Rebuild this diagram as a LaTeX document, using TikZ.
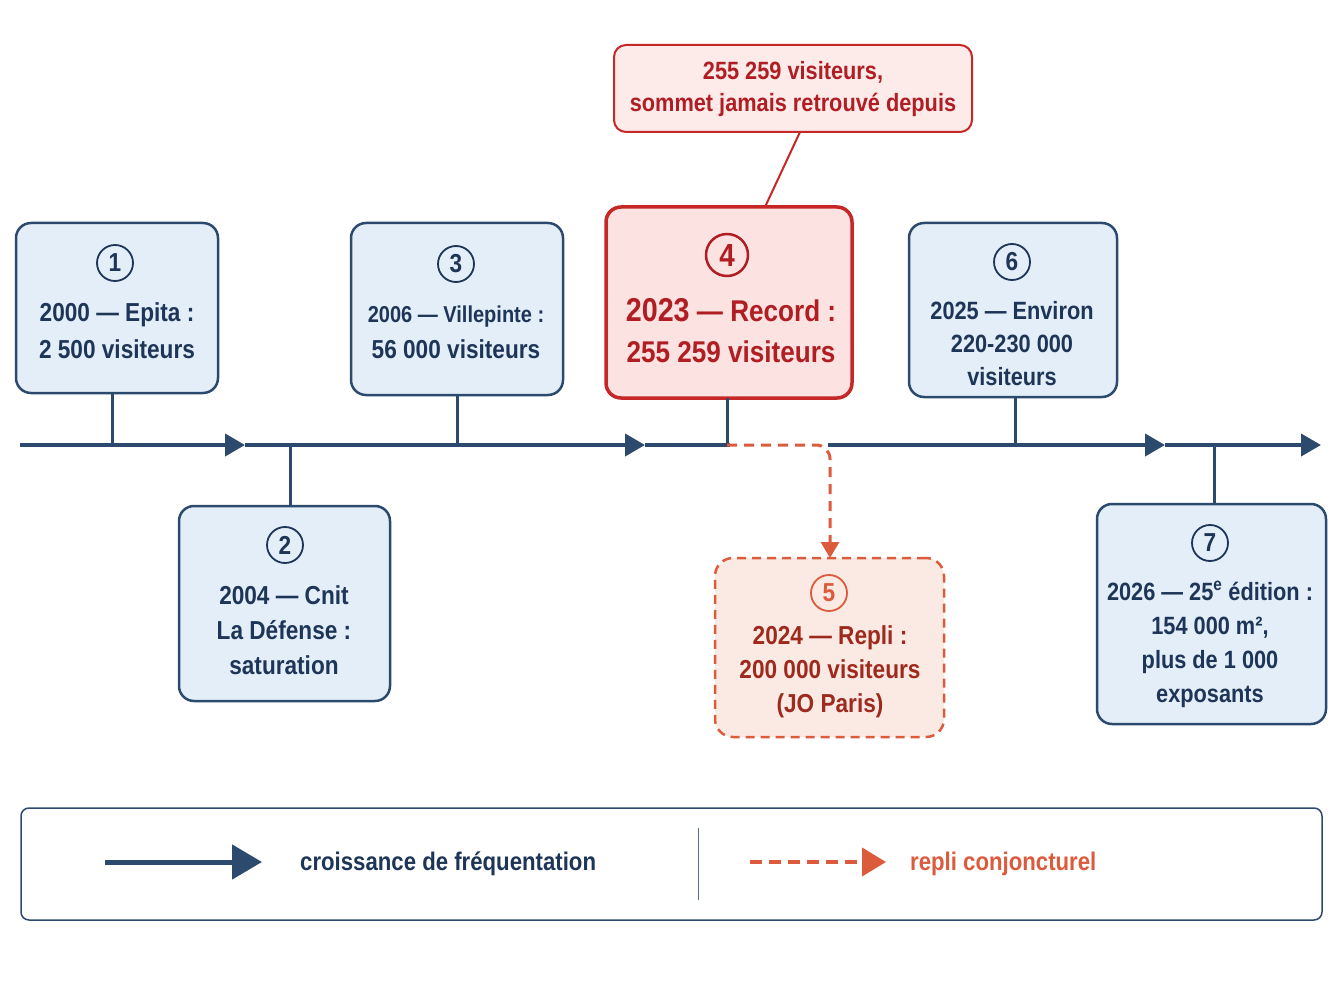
\documentclass[tikz,border=0pt]{standalone}
\usepackage{fontspec}
\setmainfont{Liberation Sans}[FakeStretch=0.87]
\usetikzlibrary{arrows.meta}
\definecolor{navy}{HTML}{2C4A6E}
\definecolor{navytext}{HTML}{1D3557}
\definecolor{boxfill}{HTML}{E4EEF9}
\definecolor{redline}{HTML}{C62828}
\definecolor{redfill}{HTML}{FCE3E1}
\definecolor{redtext}{HTML}{B01E23}
\definecolor{orng}{HTML}{DB5B3C}
\definecolor{orngfill}{HTML}{FBEAE4}
\definecolor{orngtext}{HTML}{9E2A1E}
\tikzset{
  evbox/.style={draw=navy, fill=boxfill, line width=2.5pt, rounded corners=15pt, inner sep=0pt, outer sep=0pt},
  recbox/.style={draw=redline, fill=redfill, line width=3.5pt, rounded corners=15pt, inner sep=0pt, outer sep=0pt},
  callbox/.style={draw=redline, fill=redfill!70!white, line width=2pt, rounded corners=12pt, inner sep=0pt, outer sep=0pt},
  dropbox/.style={draw=orng, fill=orngfill, line width=2.5pt, dash pattern=on 9pt off 6pt, rounded corners=18pt, inner sep=0pt, outer sep=0pt},
  numc/.style={circle, draw=navytext, line width=1.8pt, minimum size=36pt, inner sep=0pt, text=navytext, font=\fontsize{26}{26}\selectfont\bfseries},
  evtext/.style={anchor=base, align=center, inner sep=0pt, text=navytext},
  tline/.style={draw=navy, line width=4pt, -{Triangle[length=20pt,width=22pt]}},
  conn/.style={draw=navy, line width=3pt},
}
\begin{document}
\begin{tikzpicture}[x=1pt,y=-1pt]
\useasboundingbox[fill=white] (0,0) rectangle (1344,1008);

% timeline coordinates
\coordinate (t0) at (20,445);
\coordinate (t1) at (245,445);
\coordinate (t2) at (645,445);
\coordinate (t3) at (1165,445);
\coordinate (t4) at (1321,445);

\draw[tline] (t0) -- (t1);
\draw[tline] (t1) -- (t2);
\draw[tline] (t2) -- (t3);
\draw[tline] (t3) -- (t4);

% boxes
\node[evbox, minimum width=202pt, minimum height=170pt] (b1) at (117,308) {};
\node[evbox, minimum width=211pt, minimum height=195pt] (b2) at (284.5,603.5) {};
\node[evbox, minimum width=212pt, minimum height=172pt] (b3) at (457,309) {};
\node[recbox, minimum width=246pt, minimum height=191pt] (b4) at (729,302.5) {};
\node[callbox, minimum width=358pt, minimum height=87pt] (co) at (793,88.5) {};
\node[dropbox, minimum width=229pt, minimum height=179pt] (b5) at (829.5,647.5) {};
\node[evbox, minimum width=208pt, minimum height=174pt] (b6) at (1013,310) {};
\node[evbox, minimum width=229pt, minimum height=220pt] (b7) at (1211.5,614) {};

% connectors to timeline
\draw[conn] ([xshift=-5pt]b1.south) -- ([xshift=-5pt]b1.south |- t0);
\draw[conn] ([xshift=5.5pt]b2.north) -- ([xshift=5.5pt]b2.north |- t0);
\draw[conn] (b3.south) -- (b3.south |- t0);
\draw[conn] ([xshift=-2pt]b4.south) -- ([xshift=-2pt]b4.south |- t0);
\draw[conn] ([xshift=2pt]b6.south) -- ([xshift=2pt]b6.south |- t0);
\draw[conn] ([xshift=2.5pt]b7.north) -- ([xshift=2.5pt]b7.north |- t0);
\draw[draw=redline, line width=2pt] ([xshift=7pt]co.south) -- ([xshift=36pt]b4.north);

% dashed drop to 2024
\coordinate (d0) at (727,445);
\coordinate (d1) at (830,445);
\draw[white, line width=6pt] ([xshift=3pt]d0) -- ([xshift=-2pt]d1);
\draw[draw=orng, line width=3pt, dash pattern=on 10pt off 7pt, rounded corners=14pt, -{Triangle[length=16pt,width=18pt]}] (d0) -- (d1) -- (d1 |- b5.north);

% circled numbers
\node[numc] (n1) at (115,263) {1};
\node[numc] (n2) at (285,545) {2};
\node[numc] (n3) at (456,264) {3};
\node[numc, draw=redtext, text=redtext, minimum size=42pt, line width=2.5pt, font=\fontsize{32}{32}\selectfont\bfseries] (n4) at (727,255) {4};
\node[numc, draw=orng, text=orng, line width=1.8pt] (n5) at (829,593) {5};
\node[numc] (n6) at (1012,262) {6};
\node[numc] (n7) at (1210,543) {7};

% texts (anchor = baseline of last line)
\node[evtext, font=\fontsize{26}{36}\selectfont\bfseries] (x1) at (117,358) {2000 — Epita :\\2 500 visiteurs};
\node[evtext, font=\fontsize{26}{35}\selectfont\bfseries] (x2) at (284,674) {2004 — Cnit\\La Défense :\\saturation};
\node[evtext, font=\fontsize{26}{36}\selectfont\bfseries] (x3) at (456,359) {{\fontsize{23}{36}\selectfont 2006 — Villepinte :}\\56 000 visiteurs};
\node[evtext, text=redtext, font=\fontsize{30}{40}\selectfont\bfseries] (x4) at (731,362) {{\fontsize{33}{40}\selectfont 2023} — Record :\\255 259 visiteurs};
\node[evtext, text=orngtext, font=\fontsize{26}{34}\selectfont\bfseries] (x5) at (830,712) {2024 — Repli :\\200 000 visiteurs\\(JO Paris)};
\node[evtext, font=\fontsize{25}{33}\selectfont\bfseries] (x6) at (1012,385) {2025 — Environ\\220-230 000\\visiteurs};
\node[evtext, font=\fontsize{25}{34}\selectfont\bfseries] (x7) at (1210,702) {2026 — 25\textsuperscript{e} édition :\\154 000 m²,\\plus de 1 000\\exposants};
\node[evtext, text=redtext, font=\fontsize{25}{32}\selectfont\bfseries] (xc) at (793,112) {255 259 visiteurs,\\sommet jamais retrouvé depuis};

% legend
\node[draw=navy, line width=1.5pt, rounded corners=8pt, minimum width=1301pt, minimum height=112pt, inner sep=0pt] (leg) at (671.5,864) {};
\coordinate (la0) at (105,862);
\coordinate (la1) at (262,862);
\draw[draw=navy, line width=5pt, -{Triangle[length=30pt,width=34pt]}] (la0) -- (la1);
\node[anchor=west, inner sep=0pt, text=navytext, font=\fontsize{25.5}{26}\selectfont\bfseries] (lt1) at (300,864) {croissance de fréquentation};
\coordinate (ls0) at (698,828);
\coordinate (ls1) at (698,900);
\draw[draw=navy!80, line width=1pt] (ls0) -- (ls1);
\coordinate (lb0) at (750,862);
\coordinate (lb1) at (886,862);
\draw[draw=orng, line width=4pt, dash pattern=on 12pt off 7pt, -{Triangle[length=24pt,width=28pt]}] (lb0) -- (lb1);
\node[anchor=west, inner sep=0pt, text=orng, font=\fontsize{25.5}{26}\selectfont\bfseries] (lt2) at (910,864) {repli conjoncturel};
\end{tikzpicture}
\end{document}
